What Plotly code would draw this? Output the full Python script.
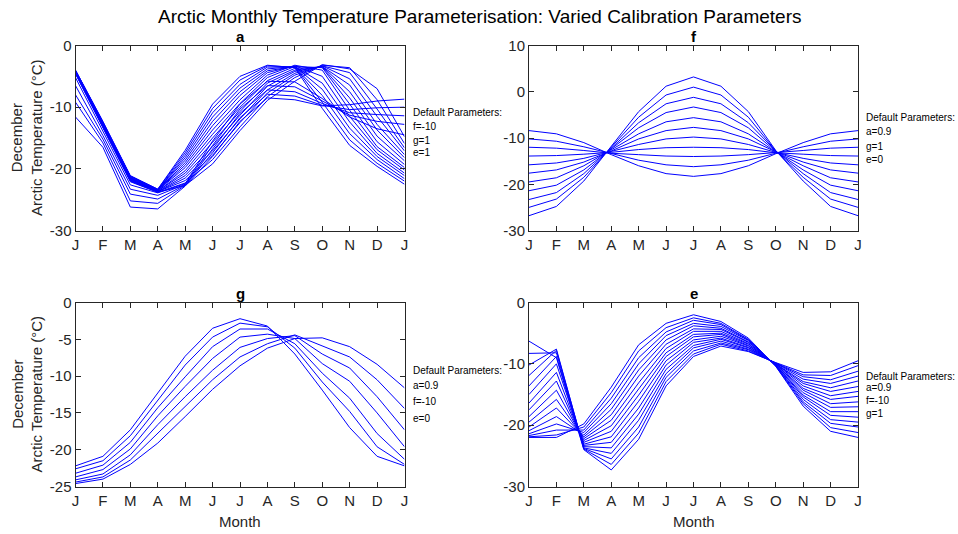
import plotly.graph_objects as go

month_labels = ["J", "F", "M", "A", "M", "J", "J", "A", "S", "O", "N", "D", "J"]
month_pos = list(range(1, 14))

# Panel a: varied "a" (rows = curves, columns = J..J)
panel_a = [
    [-4.0, -12.3, -21.1, -23.3, -17.0, -9.5, -5.0, -3.2, -3.6, -10.2, -16.2, -19.6, -22.5],
    [-4.0, -12.4, -21.2, -23.3, -17.4, -10.2, -5.6, -3.3, -3.5, -9.2, -15.3, -19.1, -22.0],
    [-4.1, -12.5, -21.2, -23.4, -17.8, -10.9, -6.3, -3.5, -3.5, -8.1, -14.3, -18.5, -21.6],
    [-4.1, -12.5, -21.3, -23.4, -18.2, -11.6, -6.9, -3.8, -3.4, -7.1, -13.4, -18.0, -21.1],
    [-4.2, -12.6, -21.4, -23.4, -18.6, -12.3, -7.5, -4.1, -3.4, -6.1, -12.4, -17.5, -20.7],
    [-4.2, -12.7, -21.5, -23.5, -19.0, -13.0, -8.1, -4.4, -3.3, -5.0, -11.5, -16.9, -20.2],
    [-4.2, -12.8, -21.5, -23.5, -19.4, -13.7, -8.8, -4.8, -3.2, -4.0, -10.5, -16.4, -19.8],
    [-4.3, -12.9, -21.6, -23.5, -19.8, -14.4, -9.4, -5.2, -3.4, -3.6, -9.5, -15.6, -19.3],
    [-4.3, -12.9, -21.7, -23.6, -20.3, -15.0, -10.0, -5.7, -3.7, -3.5, -8.5, -14.7, -18.7],
    [-4.4, -13.0, -21.7, -23.6, -20.7, -15.7, -10.7, -6.1, -4.0, -3.4, -7.5, -13.7, -18.2],
    [-4.4, -13.1, -21.8, -23.7, -21.1, -16.4, -11.3, -6.6, -4.2, -3.4, -6.4, -12.8, -17.7],
    [-4.4, -13.2, -21.9, -23.7, -21.5, -17.1, -11.9, -7.2, -4.5, -3.3, -5.4, -11.5, -17.1],
    [-4.5, -13.3, -21.9, -23.7, -21.9, -17.8, -12.5, -7.7, -4.8, -3.3, -4.4, -10.3, -16.6],
    [-4.5, -13.3, -22.0, -23.8, -22.3, -18.5, -13.2, -8.3, -5.2, -3.2, -3.6, -8.8, -15.9],
    [-4.6, -13.4, -22.1, -23.8, -22.7, -19.2, -13.8, -8.9, -5.8, -3.1, -3.8, -7.0, -14.8],
    [-5.2, -14.0, -22.6, -23.9, -22.4, -15.5, -9.5, -5.8, -5.9, -8.6, -11.6, -13.5, -14.5],
    [-6.5, -14.6, -23.3, -24.3, -22.5, -16.2, -10.3, -6.5, -6.7, -9.0, -11.3, -12.3, -12.8],
    [-8.0, -15.2, -24.1, -24.9, -22.6, -16.8, -11.0, -7.2, -7.5, -9.4, -10.9, -11.2, -11.4],
    [-9.2, -15.8, -25.2, -25.6, -22.7, -17.4, -11.7, -7.9, -8.2, -9.7, -10.4, -10.1, -10.0],
    [-11.6, -16.5, -26.2, -26.5, -22.8, -18.0, -12.3, -8.5, -8.8, -9.8, -9.6, -9.0, -8.7],
]

# Panel f: varied "f" (rows = months J..J, columns = curves)
panel_f_by_month = [
    [-8.4, -10.2, -12.0, -13.9, -15.8, -17.6, -19.5, -21.4, -23.3, -25.0, -26.8],
    [-9.1, -10.7, -12.2, -13.8, -15.4, -16.9, -18.6, -20.2, -21.8, -23.2, -24.8],
    [-11.0, -11.9, -12.7, -13.5, -14.4, -15.2, -16.0, -16.9, -17.7, -18.5, -19.3],
    [-13.6, -13.4, -13.3, -13.1, -12.9, -12.8, -12.6, -12.4, -12.2, -12.1, -11.9],
    [-16.0, -14.8, -13.6, -12.5, -11.4, -10.2, -9.1, -7.8, -6.7, -5.5, -4.3],
    [-17.7, -15.8, -13.9, -12.1, -10.2, -8.4, -6.5, -4.5, -2.6, -0.7, 1.2],
    [-18.3, -16.2, -14.0, -12.0, -9.8, -7.7, -5.6, -3.3, -1.2, 1.0, 3.2],
    [-17.7, -15.8, -13.9, -12.1, -10.2, -8.4, -6.5, -4.5, -2.6, -0.7, 1.2],
    [-16.0, -14.8, -13.6, -12.5, -11.4, -10.2, -9.1, -7.8, -6.7, -5.5, -4.3],
    [-13.4, -13.3, -13.2, -13.2, -13.1, -13.0, -13.0, -12.9, -12.8, -12.8, -12.7],
    [-11.0, -11.9, -12.7, -13.5, -14.4, -15.2, -16.0, -16.9, -17.7, -18.5, -19.3],
    [-9.1, -10.7, -12.2, -13.8, -15.4, -16.9, -18.6, -20.2, -21.8, -23.2, -24.8],
    [-8.4, -10.2, -12.0, -13.9, -15.8, -17.6, -19.5, -21.4, -23.3, -25.0, -26.8],
]

# Panel g: varied "g" (rows = curves)
panel_g = [
    [-22.2, -20.9, -17.3, -12.3, -7.3, -3.5, -2.2, -3.2, -7.0, -11.9, -17.0, -20.9, -22.2],
    [-22.6, -21.5, -18.1, -13.3, -8.5, -4.7, -2.8, -3.3, -6.2, -10.8, -14.8, -19.6, -22.0],
    [-23.2, -22.1, -19.0, -14.3, -10.1, -6.0, -3.6, -3.6, -5.6, -9.6, -13.0, -17.8, -21.3],
    [-23.7, -22.7, -19.9, -15.4, -11.4, -7.6, -4.7, -4.3, -4.9, -8.3, -10.7, -15.0, -19.6],
    [-24.1, -23.3, -20.7, -16.6, -12.8, -9.2, -6.1, -4.9, -4.5, -7.0, -8.9, -12.8, -17.3],
    [-24.4, -23.7, -21.4, -17.8, -14.1, -10.5, -7.4, -5.6, -4.4, -5.9, -7.4, -10.5, -14.4],
    [-24.6, -24.0, -22.0, -19.1, -15.5, -11.8, -8.6, -6.2, -4.9, -4.8, -6.0, -8.4, -11.6],
]

# Panel e: varied "e" (rows = months J..J, columns = curves)
panel_e_by_month = [
    [-22.0, -21.9, -21.7, -21.4, -20.9, -20.3, -19.5, -18.6, -17.5, -16.4, -15.0, -13.6, -11.9, -10.2, -8.3, -6.3],
    [-22.0, -21.6, -20.8, -19.8, -18.6, -17.2, -15.8, -14.3, -12.8, -11.4, -10.0, -8.8, -7.8, -7.6, -8.2, -9.0],
    [-19.8, -20.3, -20.8, -21.2, -21.6, -21.9, -22.2, -22.5, -22.8, -23.1, -23.3, -23.5, -23.7, -23.8, -23.9, -24.0],
    [-13.8, -14.7, -15.6, -16.5, -17.4, -18.3, -19.2, -20.1, -21.0, -21.9, -22.8, -23.7, -24.6, -25.5, -26.4, -27.3],
    [-6.9, -7.9, -9.0, -10.0, -11.0, -12.0, -13.1, -14.1, -15.1, -16.1, -17.2, -18.2, -19.2, -20.3, -21.3, -22.3],
    [-3.4, -4.1, -4.8, -5.4, -6.1, -6.8, -7.5, -8.2, -8.8, -9.5, -10.2, -10.9, -11.6, -12.2, -12.9, -13.6],
    [-2.0, -2.5, -2.9, -3.4, -3.8, -4.3, -4.7, -5.2, -5.6, -6.1, -6.5, -7.0, -7.4, -7.9, -8.4, -8.8],
    [-3.1, -3.4, -3.6, -3.9, -4.2, -4.4, -4.7, -5.0, -5.2, -5.5, -5.8, -6.0, -6.3, -6.6, -6.8, -7.1],
    [-5.8, -6.0, -6.1, -6.2, -6.4, -6.5, -6.7, -6.8, -7.0, -7.1, -7.3, -7.4, -7.6, -7.7, -7.9, -8.0],
    [-10.4, -10.4, -10.3, -10.3, -10.2, -10.2, -10.2, -10.1, -10.1, -10.0, -10.0, -10.0, -9.9, -9.9, -9.8, -9.8],
    [-16.9, -16.5, -16.2, -15.8, -15.4, -15.1, -14.7, -14.3, -14.0, -13.6, -13.2, -12.9, -12.5, -12.1, -11.8, -11.4],
    [-21.0, -20.4, -19.7, -19.1, -18.4, -17.8, -17.1, -16.5, -15.8, -15.2, -14.5, -13.9, -13.2, -12.6, -11.9, -11.3],
    [-22.0, -21.2, -20.3, -19.5, -18.7, -17.8, -17.0, -16.2, -15.3, -14.5, -13.7, -12.8, -12.0, -11.2, -10.3, -9.5],
]

y_ticks_a = [-30, -20, -10, 0]
y_ticks_f = [-30, -20, -10, 0, 10]
y_ticks_g = [-25, -20, -15, -10, -5, 0]
y_ticks_e = [-30, -20, -10, 0]

legend_a = ["Default Parameters:", "f=-10", "g=1", "e=1"]
legend_f = ["Default Parameters:", "a=0.9", "g=1", "e=0"]
legend_g = ["Default Parameters:", "a=0.9", "f=-10", "e=0"]
legend_e = ["Default Parameters:", "a=0.9", "f=-10", "g=1"]

main_title = "Arctic Monthly Temperature Parameterisation: Varied Calibration Parameters"
y_title = "December<br>Arctic Temperature (°C)"
x_title = "Month"

W, H = 958, 534
FONT = "Liberation Sans, Arial, Helvetica, sans-serif"
AX = "#262626"
BLUE = "#0000FF"


def fx(p):
    return p / W


def fy(p):
    return 1 - p / H


def transpose(m):
    return [list(r) for r in zip(*m)]


panels = [
    dict(key="", title="a", curves=panel_a, box=(75.5, 404.5, 45.5, 230.5), yr=[-30, 0], yt=y_ticks_a,
         leg=legend_a, leg_y=[113, 126.5, 140, 153], ylab=True, xlab=False),
    dict(key="2", title="f", curves=transpose(panel_f_by_month), box=(529, 858, 45.5, 230.5), yr=[-30, 10],
         yt=y_ticks_f, leg=legend_f, leg_y=[118, 132, 146, 159.5], ylab=False, xlab=False),
    dict(key="3", title="g", curves=panel_g, box=(75.5, 404.5, 302.5, 486.5), yr=[-25, 0], yt=y_ticks_g,
         leg=legend_g, leg_y=[370, 385.5, 401.5, 418], ylab=True, xlab=True),
    dict(key="4", title="e", curves=transpose(panel_e_by_month), box=(529, 858, 302.5, 486.5), yr=[-30, 0],
         yt=y_ticks_e, leg=legend_e, leg_y=[376, 387, 400, 413.5], ylab=False, xlab=True),
]

fig = go.Figure()
annotations = []
layout = {}

for p in panels:
    k = p["key"]
    x0, x1, y0, y1 = p["box"]
    for c in p["curves"]:
        fig.add_trace(go.Scatter(x=month_pos, y=c, mode="lines",
                                 line=dict(color=BLUE, width=1),
                                 xaxis="x" + k, yaxis="y" + k, showlegend=False,
                                 hoverinfo="skip"))
    common = dict(showline=True, linecolor=AX, linewidth=1, mirror="ticks",
                  ticks="inside", ticklen=5, tickwidth=1, tickcolor=AX,
                  showgrid=False, zeroline=False, automargin=False,
                  tickfont=dict(family=FONT, size=15, color=AX))
    layout["xaxis" + k] = dict(domain=[fx(x0), fx(x1)], range=[1, 13], tickmode="array",
                               tickvals=month_pos, ticktext=month_labels,
                               anchor="y" + k, **common)
    layout["yaxis" + k] = dict(domain=[fy(y1), fy(y0)], range=p["yr"], tickmode="array",
                               tickvals=p["yt"], ticktext=[str(v) for v in p["yt"]],
                               anchor="x" + k, **common)
    cx = (x0 + x1) / 2
    annotations.append(dict(text="<b>" + p["title"] + "</b>", x=fx(cx), y=fy(y0 - 9),
                            xref="paper", yref="paper", showarrow=False,
                            xanchor="center", yanchor="middle",
                            font=dict(family=FONT, size=15, color="black")))
    for t, ly in zip(p["leg"], p["leg_y"]):
        annotations.append(dict(text=t, x=fx(x1 + 6), y=fy(ly), xref="paper", yref="paper",
                                showarrow=False, xanchor="left", yanchor="middle",
                                font=dict(family=FONT, size=10, color="black")))
    if p["ylab"]:
        annotations.append(dict(text=y_title, x=fx(27), y=fy((y0 + y1) / 2), xref="paper",
                                yref="paper", showarrow=False, textangle=-90,
                                xanchor="center", yanchor="middle",
                                font=dict(family=FONT, size=15, color=AX)))
    if p["xlab"]:
        annotations.append(dict(text=x_title, x=fx(cx), y=fy(521), xref="paper", yref="paper",
                                showarrow=False, xanchor="center", yanchor="middle",
                                font=dict(family=FONT, size=15, color=AX)))

annotations.append(dict(text=main_title, x=0.5, y=fy(17), xref="paper", yref="paper",
                        showarrow=False, xanchor="center", yanchor="middle",
                        font=dict(family=FONT, size=19, color="black")))

fig.update_layout(width=W, height=H,
                  margin=dict(l=0, r=0, t=0, b=0, pad=0, autoexpand=False),
                  paper_bgcolor="white", plot_bgcolor="white",
                  annotations=annotations, showlegend=False, **layout)

fig.write_html("out.html", include_plotlyjs=True,
               config={"displayModeBar": False, "responsive": False},
               post_script="document.documentElement.style.margin='0';"
                           "document.body.style.margin='0';"
                           "document.body.style.padding='0';"
                           "document.body.style.overflow='hidden';")
